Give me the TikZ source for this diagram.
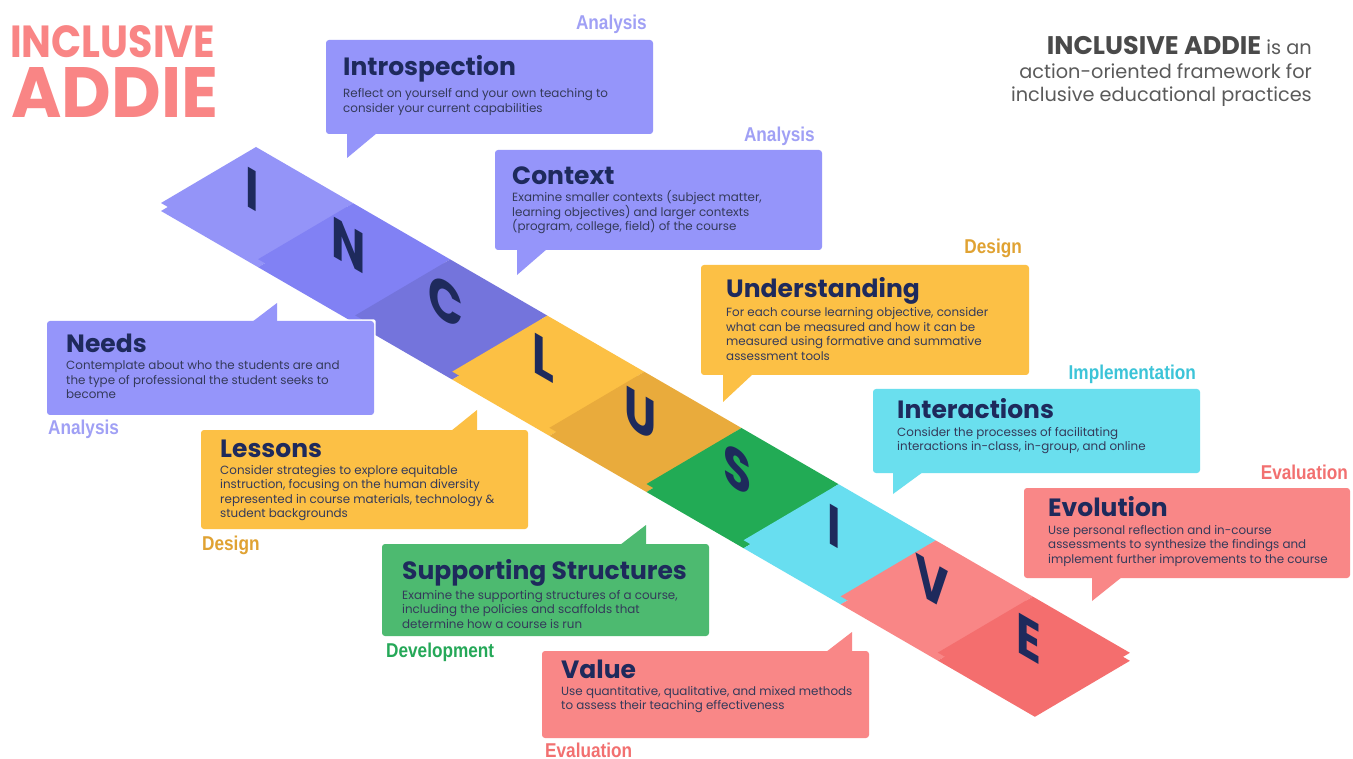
\documentclass[tikz,border=0pt]{standalone}
\usepackage{fontspec}
\usepackage{graphicx}
\setmainfont{Poppins}
\newfontfamily\labelfont{Liberation Sans}
\usetikzlibrary{calc}
\definecolor{navy}{HTML}{1E2A5C}
\definecolor{bodyc}{HTML}{343A5A}
\definecolor{purp}{HTML}{9595FA}
\definecolor{purpL}{HTML}{A0A0F5}
\definecolor{yel}{HTML}{FCC045}
\definecolor{yelL}{HTML}{E0A232}
\definecolor{grn}{HTML}{4DBA70}
\definecolor{grnL}{HTML}{25A858}
\definecolor{cya}{HTML}{6ADFEE}
\definecolor{cyaL}{HTML}{3CC4D8}
\definecolor{sal}{HTML}{F98787}
\definecolor{salL}{HTML}{F27070}
\definecolor{tI}{HTML}{9494F8}
\definecolor{tN}{HTML}{8181F4}
\definecolor{tC}{HTML}{7474DC}
\definecolor{tL}{HTML}{FCC044}
\definecolor{tU}{HTML}{E9AB3C}
\definecolor{tS}{HTML}{22AB55}
\definecolor{tIb}{HTML}{68DEF0}
\definecolor{tV}{HTML}{F98686}
\definecolor{tE}{HTML}{F46E6E}
\definecolor{headsal}{HTML}{F98585}
\definecolor{greyA}{HTML}{4A4A4A}
\definecolor{greyB}{HTML}{5A5A5A}
\newcommand{\bodypar}[1]{\parbox[t]{360pt}{\raggedright\fontsize{11.9}{14.5}\selectfont #1}}
\newcommand{\phaselab}[1]{\scalebox{0.86}[1]{\labelfont\fontsize{20}{22}\selectfont\bfseries #1}}
\tikzset{
  boxtitle/.style={anchor=base west, inner sep=0pt, text=navy, font=\fontsize{25}{28}\selectfont\bfseries},
  boxbody/.style={anchor=base west, inner sep=0pt, text=bodyc},
  phase/.style={inner sep=0pt},
  tileletter/.style={inner sep=0pt, text=navy, font=\fontsize{57}{57}\selectfont\bfseries, yslant=-0.58, xscale=0.8},
  halo/.style={fill=white, draw=white, line width=3pt, line join=round},
  boxcorner/.style={rounded corners=3pt},
  introline/.style={anchor=base east, inner sep=0pt, text=greyB, font=\fontsize{19.3}{24}\selectfont},
}
\begin{document}
\begin{tikzpicture}[x=1pt,y=-1pt]
\useasboundingbox (0,0) rectangle (1353,759);
\fill[white] (0,0) rectangle (1353,759);

% ---------- band ----------
\foreach \k/\tc/\ch in {0/tI/I,1/tN/N,2/tC/C,3/tL/L,4/tU/U,5/tS/S,6/tIb/I,7/tV/V,8/tE/E}{
  \coordinate (T\k) at ({256+97.1*\k},{147+56.2*\k});
  \fill[\tc] ($(T\k)+(0,8)$) -- ++(97.1,56.2) -- ++(-95,56) -- ++(-97.1,-56.2) -- cycle;
  \fill[\tc] (T\k) -- ++(97.1,56.2) -- ++(-95,56) -- ++(-97.1,-56.2) -- cycle;
  \node[tileletter] (letter\k) at ($(T\k)+(-4,42)$) {\ch};
}

% ---------- halos ----------
\path[halo] (326,40) rectangle (653,134);
\path[halo] (495,150) rectangle (822,250);
\path[halo] (701,265) rectangle (1029,375);
\path[halo] (873,389) rectangle (1200,473);
\path[halo] (1024,488) rectangle (1350,578);
\path[halo] (47,321) rectangle (374,415) (252,321) -- (277,303) -- (277,321) -- cycle;
\path[halo] (201,430) rectangle (528,529);
\path[halo] (382,544) rectangle (709,636);
\path[halo] (542,651) rectangle (869,738);

% ---------- callouts ----------
\fill[purp] (347,133) -- (347,158) -- (377,133) -- cycle;
\fill[purp, boxcorner] (326,40) rectangle (653,134);
\fill[purp] (517,249) -- (517,275) -- (547,249) -- cycle;
\fill[purp, boxcorner] (495,150) rectangle (822,250);
\fill[yel] (723,374) -- (723,402) -- (753,374) -- cycle;
\fill[yel, boxcorner] (701,265) rectangle (1029,375);
\fill[cya] (893,472) -- (893,494) -- (923,472) -- cycle;
\fill[cya, boxcorner] (873,389) rectangle (1200,473);
\fill[sal] (1092,577) -- (1092,601) -- (1122,577) -- cycle;
\fill[sal, boxcorner] (1024,488) rectangle (1350,578);
\fill[purp] (252,322) -- (277,303) -- (277,322) -- cycle;
\fill[purp, boxcorner] (47,321) rectangle (374,415);
\fill[yel] (451,431) -- (477,410) -- (477,431) -- cycle;
\fill[yel, boxcorner] (201,430) rectangle (528,529);
\fill[grn] (620,545) -- (646,525) -- (646,545) -- cycle;
\fill[grn, boxcorner] (382,544) rectangle (709,636);
\fill[sal] (826,652) -- (852,632) -- (852,652) -- cycle;
\fill[sal, boxcorner] (542,651) rectangle (869,738);

% ---------- texts in callouts ----------
\node[boxtitle] (t1) at (343,76) {Introspection};
\node[boxbody] (b1) at (343,98) {\bodypar{Reflect on yourself and your own teaching to\\consider your current capabilities}};
\node[boxtitle] (t2) at (512,185) {Context};
\node[boxbody] (b2) at (512,202) {\bodypar{Examine smaller contexts (subject matter,\\learning objectives) and larger contexts\\(program, college, field) of the course}};
\node[boxtitle] (t3) at (726,298) {Understanding};
\node[boxbody] (b3) at (726,317) {\bodypar{For each course learning objective, consider\\what can be measured and how it can be\\measured using formative and summative\\assessment tools}};
\node[boxtitle] (t4) at (897,419) {Interactions};
\node[boxbody] (b4) at (897,436) {\bodypar{Consider the processes of facilitating\\interactions in-class, in-group, and online}};
\node[boxtitle] (t5) at (1048,516) {Evolution};
\node[boxbody] (b5) at (1048,534) {\bodypar{Use personal reflection and in-course\\assessments to synthesize the findings and\\implement further improvements to the course}};
\node[boxtitle] (t6) at (66,353) {Needs};
\node[boxbody] (b6) at (66,370) {\bodypar{Contemplate about who the students are and\\the type of professional the student seeks to\\become}};
\node[boxtitle] (t7) at (220,457) {Lessons};
\node[boxbody] (b7) at (220,474) {\bodypar{Consider strategies to explore equitable\\instruction, focusing on the human diversity\\represented in course materials, technology \&\\student backgrounds}};
\node[boxtitle] (t8) at (402,579) {Supporting Structures};
\node[boxbody] (b8) at (402,599) {\bodypar{Examine the supporting structures of a course,\\including the policies and scaffolds that\\determine how a course is run}};
\node[boxtitle] (t9) at (561,678) {Value};
\node[boxbody] (b9) at (561,695) {\bodypar{Use quantitative, qualitative, and mixed methods\\to assess their teaching effectiveness}};

% ---------- phase labels ----------
\node[phase, text=purpL, anchor=base east] (p1) at (647,30) {\phaselab{Analysis}};
\node[phase, text=purpL, anchor=base east] (p2) at (815,142) {\phaselab{Analysis}};
\node[phase, text=yelL, anchor=base east] (p3) at (1022,254) {\phaselab{Design}};
\node[phase, text=cyaL, anchor=base east] (p4) at (1196,380) {\phaselab{Implementation}};
\node[phase, text=salL, anchor=base east] (p5) at (1348,479) {\phaselab{Evaluation}};
\node[phase, text=purpL, anchor=base west] (p6) at (48,435) {\phaselab{Analysis}};
\node[phase, text=yelL, anchor=base west] (p7) at (202,550) {\phaselab{Design}};
\node[phase, text=grnL, anchor=base west] (p8) at (386,657) {\phaselab{Development}};
\node[phase, text=salL, anchor=base west] (p9) at (545,757) {\phaselab{Evaluation}};

% ---------- headings ----------
\node[anchor=north west, inner sep=0pt, text=headsal] (h1) at (10,25) {\resizebox{205pt}{32pt}{\bfseries INCLUSIVE}};
\node[anchor=north west, inner sep=0pt, text=headsal] (h2) at (11,67) {\resizebox{207pt}{50pt}{\bfseries ADDIE}};
\node[introline] (intro1) at (1312,55) {{\color{greyA}\fontsize{25.5}{28}\selectfont\bfseries INCLUSIVE ADDIE} is an};
\node[introline] (intro2) at (1312,79) {action-oriented framework for};
\node[introline] (intro3) at (1312,102) {inclusive educational practices};
\end{tikzpicture}
\end{document}
